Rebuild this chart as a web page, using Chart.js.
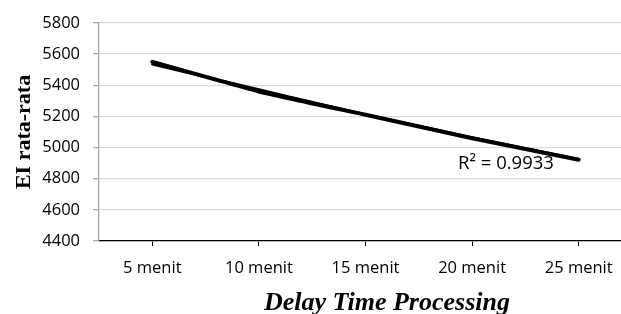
<!DOCTYPE html>
<html>
<head>
<meta charset="utf-8">
<script src="https://cdn.jsdelivr.net/npm/chart.js@4"></script>
<style>
  html, body { margin: 0; padding: 0; background: #fff; overflow: hidden; }
  #wrap { position: relative; width: 632px; height: 314px; }
</style>
</head>
<body>
<div id="wrap"><canvas id="chart"></canvas></div>
<script>
const categories = ["5 menit", "10 menit", "15 menit", "20 menit", "25 menit"]
const eiValues = [5550, 5360, 5210, 5060, 4922]
const trendValues = [5535, 5372, 5212, 5064, 4925]
const yTicks = [4400, 4600, 4800, 5000, 5200, 5400, 5600, 5800]
const r2Label = "R² = 0.9933"
const xTitle = "Delay Time Processing"
const yTitle = "EI rata-rata"

const tickFont = { family: "'Open Sans', sans-serif", size: 16.5 }

// R² label and x title drawn where the original places them
const overlayText = {
  id: "overlayText",
  afterDraw(chart) {
    const ctx = chart.ctx
    const x = chart.scales.x
    const y = chart.scales.y
    ctx.save()
    ctx.fillStyle = "#000"
    ctx.font = "18.5px 'Open Sans', sans-serif"
    ctx.textAlign = "left"
    ctx.textBaseline = "alphabetic"
    ctx.fillText(r2Label, x.getPixelForValue(3) - 14, y.getPixelForValue(4800) - 10)
    ctx.font = "italic bold 26px 'Liberation Serif', serif"
    ctx.textAlign = "center"
    ctx.fillText(xTitle, 387, 310)
    ctx.restore()
  }
}

new Chart(document.getElementById("chart"), {
  type: "line",
  data: {
    labels: categories,
    datasets: [
      {
        label: yTitle,
        data: eiValues,
        borderColor: "#000",
        borderWidth: 4,
        pointRadius: 0,
        tension: 0.15,
        borderCapStyle: "round"
      },
      {
        label: "Trendline",
        data: trendValues,
        borderColor: "#000",
        borderWidth: 2.5,
        pointRadius: 0,
        cubicInterpolationMode: "monotone",
        borderCapStyle: "round"
      }
    ]
  },
  options: {
    responsive: true,
    maintainAspectRatio: false,
    animation: false,
    layout: { padding: { top: 18, right: 0, left: 0, bottom: 0 } },
    plugins: { legend: { display: false }, tooltip: { enabled: false } },
    scales: {
      x: {
        offset: true,
        grid: { offset: false, drawOnChartArea: false, color: "#000", tickLength: 5, tickWidth: 1 },
        border: { color: "#000", width: 1.3 },
        ticks: { color: "#000", font: tickFont, padding: 12, maxRotation: 0, autoSkip: false },
        afterFit(scale) { scale.height = 73 }
      },
      y: {
        min: 4400,
        max: 5800,
        afterBuildTicks(scale) { scale.ticks = yTicks.map(v => ({ value: v })) },
        grid: { color: "#d9d9d9", lineWidth: 1.3, tickLength: 6, tickColor: "#a6a6a6" },
        border: { color: "#a6a6a6", width: 1.3 },
        ticks: { color: "#000", font: tickFont, padding: 13, callback: v => String(v) },
        title: {
          display: true,
          text: yTitle,
          color: "#000",
          font: { family: "'Liberation Serif', serif", size: 22, weight: "bold" },
          padding: { top: 11, bottom: 0 }
        },
        afterFit(scale) { scale.width = 99 }
      }
    }
  },
  plugins: [overlayText]
})
</script>
</body>
</html>
